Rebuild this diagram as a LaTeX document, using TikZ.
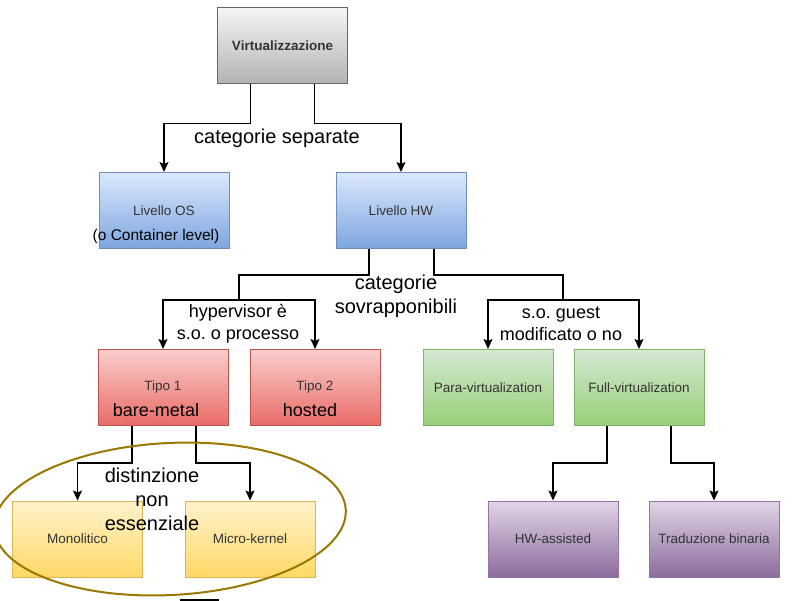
\documentclass[tikz,border=0pt]{standalone}
\usepackage{fontspec}
\setmainfont{Liberation Sans}
\usetikzlibrary{arrows.meta}
\definecolor{greytop}{HTML}{F5F5F5}
\definecolor{greybot}{HTML}{B3B3B3}
\definecolor{greyline}{HTML}{666666}
\definecolor{bluetop}{HTML}{DAE8FC}
\definecolor{bluebot}{HTML}{7EA6E0}
\definecolor{blueline}{HTML}{6C8EBF}
\definecolor{redtop}{HTML}{F8CECC}
\definecolor{redbot}{HTML}{EA6B66}
\definecolor{redline}{HTML}{B85450}
\definecolor{greentop}{HTML}{D5E8D4}
\definecolor{greenbot}{HTML}{97D077}
\definecolor{greenline}{HTML}{82B366}
\definecolor{yellowtop}{HTML}{FFF2CC}
\definecolor{yellowbot}{HTML}{FFD966}
\definecolor{yellowline}{HTML}{D6B656}
\definecolor{purpletop}{HTML}{E1D5E7}
\definecolor{purplebot}{HTML}{8C6C9C}
\definecolor{purpleline}{HTML}{9673A6}
\definecolor{ringcol}{HTML}{9A7800}
\frenchspacing
\begin{document}
\begin{tikzpicture}[x=1pt, y=-1pt,
    box/.style = {draw, line width=1pt, minimum width=130pt, minimum height=76pt, inner sep=0pt, text=black!80, font=\fontsize{13.5}{16}\selectfont},
    greybox/.style = {box, draw=greyline, top color=greytop, bottom color=greybot, font=\bfseries\fontsize{13.5}{16}\selectfont},
    bluebox/.style = {box, draw=blueline, top color=bluetop, bottom color=bluebot},
    redbox/.style = {box, draw=redline, top color=redtop, bottom color=redbot},
    greenbox/.style = {box, draw=greenline, top color=greentop, bottom color=greenbot},
    yellowbox/.style = {box, draw=yellowline, top color=yellowtop, bottom color=yellowbot},
    purplebox/.style = {box, draw=purpleline, top color=purpletop, bottom color=purplebot},
    conn/.style = {line width=1.3pt, -{Stealth[length=10pt, width=9pt, inset=2pt]}},
    sublbl/.style = {inner sep=0pt, font=\fontsize{15.5}{18}\selectfont},
    lbl/.style = {inner sep=0pt, align=center, font=\fontsize{18}{22}\selectfont},
    biglbl/.style = {inner sep=0pt, align=center, font=\fontsize{20}{24}\selectfont}]
    \useasboundingbox (0,0) rectangle (797,601);
    \node (virt) at (282.5,46) [greybox]{Virtualizzazione};
    \node (os) at (164,210.5) [bluebox]{Livello OS};
    \node (hw) at (401,210.5) [bluebox]{Livello HW};
    \node (tipo1) at (163,387.5) [redbox]{Tipo 1};
    \node (tipo2) at (315,387.5) [redbox]{Tipo 2};
    \node (para) at (488,387.5) [greenbox]{Para-virtualization};
    \node (full) at (639,387.5) [greenbox]{Full-virtualization};
    \node (mono) at (77.5,539) [yellowbox]{Monolitico};
    \node (micro) at (250,539) [yellowbox]{Micro-kernel};
    \node (hwass) at (553,539) [purplebox]{HW-assisted};
    \node (trad) at (714,539) [purplebox]{Traduzione binaria};
    \node (container) at (156,236) [sublbl]{(o Container level)};
    \node (baremetal) at (156,410) [lbl]{bare-metal};
    \node (hosted) at (310,410) [lbl]{hosted};
    \node (separate) at (277,138) [biglbl]{categorie separate};
    \node (sovrapp) at (396,296) [biglbl]{categorie\\sovrapponibili};
    \node (hyper) at (238,324) [lbl]{hypervisor è\\s.o. o processo};
    \node (guest) at (561,324) [lbl]{s.o. guest\\modificato o no};
    \node (distinz) at (152,499) [biglbl]{distinzione\\non\\essenziale};
    \draw[conn] ([xshift=-32pt]virt.south) -- ++(0,39) -| (os.north);
    \draw[conn] ([xshift=32pt]virt.south) -- ++(0,39) -| (hw.north);
    \draw[conn] ([xshift=-32pt]hw.south) -- ++(0,26) -- ++(-130,0) -- ++(0,25) -| (tipo1.north);
    \draw[conn] ([xshift=-32pt]hw.south) -- ++(0,26) -- ++(-130,0) -- ++(0,25) -| (tipo2.north);
    \draw[conn] ([xshift=33pt]hw.south) -- ++(0,26) -- ++(129,0) -- ++(0,25) -| (para.north);
    \draw[conn] ([xshift=33pt]hw.south) -- ++(0,26) -- ++(129,0) -- ++(0,25) -| (full.north);
    \draw[conn] ([xshift=-31pt]tipo1.south) -- ++(0,37) -| (mono.north);
    \draw[conn] ([xshift=33pt]tipo1.south) -- ++(0,37) -| (micro.north);
    \draw[conn] ([xshift=-32pt]full.south) -- ++(0,37) -| (hwass.north);
    \draw[conn] ([xshift=32pt]full.south) -- ++(0,37) -| (trad.north);
    \draw[ringcol, line width=2pt, rotate around={3:(170,519)}] (170,519) ellipse [x radius=176, y radius=76];
    \draw[line width=1.5pt] (180,600) -- (219,600);
\end{tikzpicture}
\end{document}
